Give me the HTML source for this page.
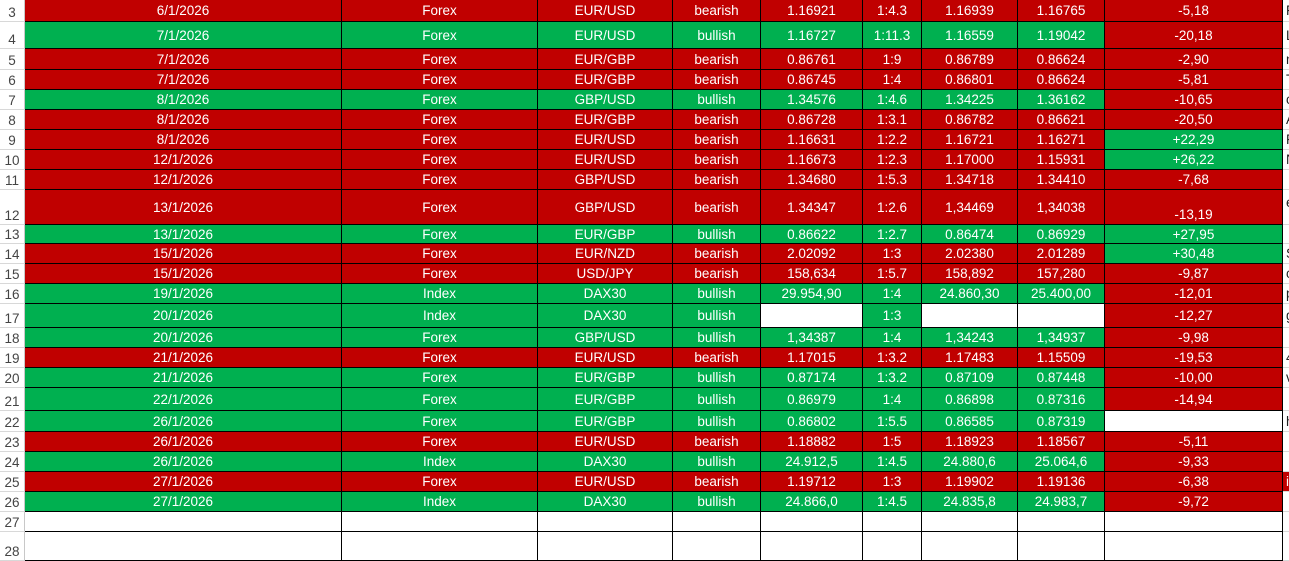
<!DOCTYPE html>
<html><head><meta charset="utf-8">
<style>
html,body{margin:0;padding:0;width:1289px;height:539px;overflow:hidden;background:#fff;font-family:"Liberation Sans",Arial,sans-serif;}
.c{position:absolute;box-sizing:border-box;color:#fff;font-size:13.5px;display:flex;align-items:center;justify-content:center;white-space:nowrap;border-right:1px solid #000;border-bottom:1px solid #000;}
.r{background:#c00000}.g{background:#00b050}.w{background:#fff}
.h{position:absolute;box-sizing:border-box;left:0;width:25px;color:#444;font-size:13.5px;display:flex;align-items:flex-end;justify-content:center;padding-bottom:1px;border-bottom:1px solid #d8d8d8;border-right:1px solid #c8c8c8;background:#fff}
.j{position:absolute;box-sizing:border-box;left:1283px;width:6px;color:#222;font-size:13.5px;display:flex;align-items:center;padding-left:3px;border-bottom:1px solid #d8d8d8;overflow:hidden}
</style></head><body>
<div id="s"></div>
<script>
var xs=[25,342,538,673,761,863,922,1018,1105,1283];
var ys=[0,22,49,70,90,110,130,150,170,190,225,244,264,284,304,328,348,368,388,411,432,452,472,492,512,532,561];
var d=[
["6/1/2026","Forex","EUR/USD","bearish","1.16921","1:4.3","1.16939","1.16765","-5,18","r","r","F"],
["7/1/2026","Forex","EUR/USD","bullish","1.16727","1:11.3","1.16559","1.19042","-20,18","g","r","L"],
["7/1/2026","Forex","EUR/GBP","bearish","0.86761","1:9","0.86789","0.86624","-2,90","r","r","n"],
["7/1/2026","Forex","EUR/GBP","bearish","0.86745","1:4","0.86801","0.86624","-5,81","r","r","T"],
["8/1/2026","Forex","GBP/USD","bullish","1.34576","1:4.6","1.34225","1.36162","-10,65","g","r","c"],
["8/1/2026","Forex","EUR/GBP","bearish","0.86728","1:3.1","0.86782","0.86621","-20,50","r","r","A"],
["8/1/2026","Forex","EUR/USD","bearish","1.16631","1:2.2","1.16721","1.16271","+22,29","r","g","F"],
["12/1/2026","Forex","EUR/USD","bearish","1.16673","1:2.3","1.17000","1.15931","+26,22","r","g","N"],
["12/1/2026","Forex","GBP/USD","bearish","1.34680","1:5.3","1.34718","1.34410","-7,68","r","r",""],
["13/1/2026","Forex","GBP/USD","bearish","1.34347","1:2.6","1,34469","1,34038","-13,19","r","r","e"],
["13/1/2026","Forex","EUR/GBP","bullish","0.86622","1:2.7","0.86474","0.86929","+27,95","g","g",""],
["15/1/2026","Forex","EUR/NZD","bearish","2.02092","1:3","2.02380","2.01289","+30,48","r","g","S"],
["15/1/2026","Forex","USD/JPY","bearish","158,634","1:5.7","158,892","157,280","-9,87","r","r","c"],
["19/1/2026","Index","DAX30","bullish","29.954,90","1:4","24.860,30","25.400,00","-12,01","g","r","p"],
["20/1/2026","Index","DAX30","bullish","","1:3","","","-12,27","g","r","g"],
["20/1/2026","Forex","GBP/USD","bullish","1,34387","1:4","1,34243","1,34937","-9,98","g","r",""],
["21/1/2026","Forex","EUR/USD","bearish","1.17015","1:3.2","1.17483","1.15509","-19,53","r","r","4"],
["21/1/2026","Forex","EUR/GBP","bullish","0.87174","1:3.2","0.87109","0.87448","-10,00","g","r","v"],
["22/1/2026","Forex","EUR/GBP","bullish","0.86979","1:4","0.86898","0.87316","-14,94","g","r",""],
["26/1/2026","Forex","EUR/GBP","bullish","0.86802","1:5.5","0.86585","0.87319","","g","w","h"],
["26/1/2026","Forex","EUR/USD","bearish","1.18882","1:5","1.18923","1.18567","-5,11","r","r",""],
["26/1/2026","Index","DAX30","bullish","24.912,5","1:4.5","24.880,6","25.064,6","-9,33","g","r",""],
["27/1/2026","Forex","EUR/USD","bearish","1.19712","1:3","1.19902","1.19136","-6,38","r","r","i"],
["27/1/2026","Index","DAX30","bullish","24.866,0","1:4.5","24.835,8","24.983,7","-9,72","g","r",""],
["","","","","","","","","","w","w",""],
["","","","","","","","","","w","w",""]
];
var h="";
for(var i=0;i<d.length;i++){
 var y=ys[i],hh=ys[i+1]-ys[i],row=d[i];
 h+='<div class="h" style="top:'+y+'px;height:'+hh+'px">'+(i+3)+'</div>';
 for(var k=0;k<9;k++){
  var cls=row[9];
  if(k==8)cls=row[10];
  if(i==14&&(k==4||k==6||k==7))cls="w";
  var st='left:'+xs[k]+'px;top:'+y+'px;width:'+(xs[k+1]-xs[k])+'px;height:'+hh+'px;';
  if(i==9&&k==8)st+='align-items:flex-end;padding-bottom:2px;';
  h+='<div class="c '+cls+'" style="'+st+'">'+row[k]+'</div>';
 }
 var jb=(i==22)?'background:#c00000;color:#fff;':'';
 h+='<div class="j" style="top:'+y+'px;height:'+hh+'px;'+jb+(i==9?'align-items:flex-start;padding-top:5px;':'')+'">'+row[11]+'</div>';
}
document.getElementById('s').innerHTML=h;
</script>
</body></html>
